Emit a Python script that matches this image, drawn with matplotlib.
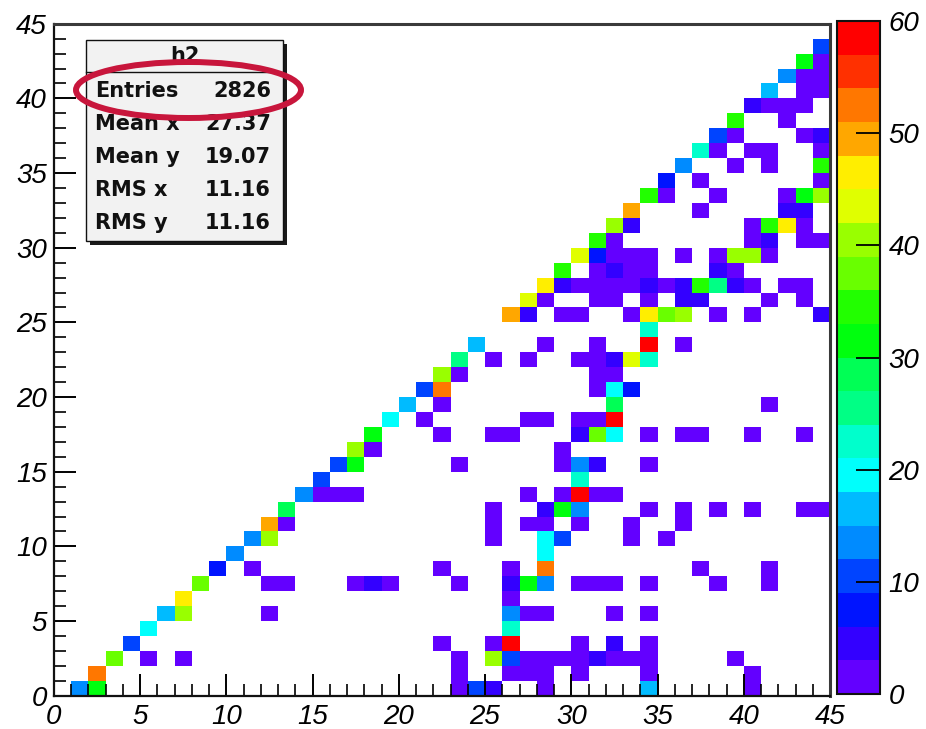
import colorsys
import numpy as np
import matplotlib
matplotlib.use("Agg")
import matplotlib.pyplot as plt
from matplotlib.colors import ListedColormap, BoundaryNorm
from matplotlib.patches import Rectangle, Ellipse
from matplotlib.lines import Line2D

# ---------------- data ----------------
n_bins = 45
axis_min, axis_max = 0, 45
axis_ticks = [0, 5, 10, 15, 20, 25, 30, 35, 40, 45]
levels = list(range(0, 61, 3))
cbar_ticks = [0, 10, 20, 30, 40, 50, 60]

stats_title = "h2"
stats_labels = ["Entries", "Mean x", "Mean y", "RMS x", "RMS y"]
stats_values = ["2826", "27.37", "19.07", "11.16", "11.16"]

# non-empty bins (lower-left corner x, y) and their contents, one line per y row
bin_x = [
    1, 2, 23, 24, 25, 28, 34, 40,
    2, 23, 26, 27, 28, 30, 34, 40,
    3, 5, 7, 23, 25, 26, 27, 28, 29, 30, 31, 32, 33, 34, 39,
    4, 22, 25, 26, 30, 32, 34,
    5, 26,
    6, 7, 12, 26, 27, 28, 32, 34,
    7, 26,
    8, 12, 13, 17, 18, 19, 23, 26, 27, 28, 30, 31, 32, 34, 38, 41,
    9, 11, 22, 26, 28, 37, 41,
    10, 28,
    11, 12, 25, 28, 29, 33, 35,
    12, 13, 25, 27, 28, 30, 33, 36,
    13, 25, 28, 29, 30, 34, 36, 38, 40, 43, 44,
    14, 15, 16, 17, 27, 29, 30, 31, 32,
    15, 30,
    16, 17, 23, 29, 30, 31, 34,
    17, 18, 29,
    18, 22, 25, 26, 30, 31, 32, 34, 36, 37, 40, 43,
    19, 21, 27, 28, 30, 31, 32,
    20, 22, 32, 41,
    21, 22, 31, 32, 33,
    22, 23, 31, 32,
    23, 25, 27, 30, 31, 32, 33, 34,
    24, 28, 31, 34, 36,
    34,
    26, 27, 29, 30, 33, 34, 35, 36, 38, 40, 44,
    27, 28, 31, 32, 34, 36, 37, 41, 43,
    28, 29, 30, 31, 32, 33, 34, 35, 36, 37, 38, 39, 40, 42, 43,
    29, 31, 32, 33, 34, 38, 39,
    30, 31, 32, 33, 34, 36, 38, 39, 40, 41,
    31, 32, 40, 41, 43, 44,
    32, 33, 40, 41, 42, 43,
    33, 37, 42, 43,
    34, 35, 38, 42, 43, 44,
    35, 37, 44,
    36, 39, 41, 44,
    37, 38, 40, 41, 44,
    38, 39, 43, 44,
    39, 42,
    40, 41, 42, 43,
    41, 43, 44,
    42, 43, 44,
    43, 44,
    44,
]
bin_y = [
    0, 0, 0, 0, 0, 0, 0, 0,
    1, 1, 1, 1, 1, 1, 1, 1,
    2, 2, 2, 2, 2, 2, 2, 2, 2, 2, 2, 2, 2, 2, 2,
    3, 3, 3, 3, 3, 3, 3,
    4, 4,
    5, 5, 5, 5, 5, 5, 5, 5,
    6, 6,
    7, 7, 7, 7, 7, 7, 7, 7, 7, 7, 7, 7, 7, 7, 7, 7,
    8, 8, 8, 8, 8, 8, 8,
    9, 9,
    10, 10, 10, 10, 10, 10, 10,
    11, 11, 11, 11, 11, 11, 11, 11,
    12, 12, 12, 12, 12, 12, 12, 12, 12, 12, 12,
    13, 13, 13, 13, 13, 13, 13, 13, 13,
    14, 14,
    15, 15, 15, 15, 15, 15, 15,
    16, 16, 16,
    17, 17, 17, 17, 17, 17, 17, 17, 17, 17, 17, 17,
    18, 18, 18, 18, 18, 18, 18,
    19, 19, 19, 19,
    20, 20, 20, 20, 20,
    21, 21, 21, 21,
    22, 22, 22, 22, 22, 22, 22, 22,
    23, 23, 23, 23, 23,
    24,
    25, 25, 25, 25, 25, 25, 25, 25, 25, 25, 25,
    26, 26, 26, 26, 26, 26, 26, 26, 26,
    27, 27, 27, 27, 27, 27, 27, 27, 27, 27, 27, 27, 27, 27, 27,
    28, 28, 28, 28, 28, 28, 28,
    29, 29, 29, 29, 29, 29, 29, 29, 29, 29,
    30, 30, 30, 30, 30, 30,
    31, 31, 31, 31, 31, 31,
    32, 32, 32, 32,
    33, 33, 33, 33, 33, 33,
    34, 34, 34,
    35, 35, 35, 35,
    36, 36, 36, 36, 36,
    37, 37, 37, 37,
    38, 38,
    39, 39, 39, 39,
    40, 40, 40,
    41, 41, 41,
    42, 42,
    43,
]
bin_count = [
    13, 31, 1, 10, 4, 1, 16, 1,
    52, 1, 1, 1, 1, 1, 1, 1,
    37, 1, 1, 1, 40, 10, 1, 1, 1, 1, 4, 1, 1, 1, 1,
    10, 1, 1, 58, 1, 4, 1,
    19, 22,
    16, 40, 1, 13, 1, 1, 1, 1,
    46, 1,
    37, 1, 1, 1, 4, 1, 1, 4, 31, 13, 1, 1, 1, 1, 1, 1,
    7, 1, 1, 1, 52, 1, 1,
    13, 19,
    13, 40, 1, 19, 10, 1, 1,
    49, 1, 1, 1, 1, 1, 1, 1,
    28, 1, 4, 31, 13, 1, 1, 1, 1, 1, 1,
    13, 1, 1, 1, 1, 1, 58, 1, 1,
    10, 22,
    10, 31, 1, 1, 13, 4, 1,
    40, 1, 1,
    31, 1, 1, 1, 4, 37, 19, 1, 1, 1, 1, 1,
    19, 1, 1, 1, 1, 1, 58,
    16, 1, 28, 1,
    10, 52, 1, 19, 7,
    40, 1, 1, 1,
    25, 1, 1, 1, 1, 4, 43, 22,
    16, 1, 1, 58, 1,
    22,
    49, 4, 1, 1, 1, 46, 37, 40, 1, 1, 4,
    43, 1, 1, 1, 1, 4, 4, 1, 1,
    46, 4, 1, 1, 1, 1, 4, 1, 4, 34, 25, 4, 1, 1, 1,
    34, 1, 4, 1, 1, 4, 1,
    43, 7, 1, 1, 1, 1, 1, 40, 40, 1,
    34, 1, 1, 4, 1, 1,
    40, 4, 1, 34, 46, 1,
    49, 1, 4, 4,
    34, 1, 1, 1, 31, 40,
    7, 1, 1,
    13, 1, 1, 34,
    22, 1, 1, 1, 1,
    10, 1, 1, 4,
    34, 1,
    4, 1, 1, 1,
    16, 1, 1,
    13, 1, 1,
    31, 1,
    10,
]

# ---------------- ROOT "pretty palette" sampled at 20 contours ----------------
def root_palette(n_levels, n_colors=50):
    cols = []
    for j in range(n_levels):
        idx = int((j + 0.99) * n_colors / n_levels)
        if idx >= n_colors - 1:
            cols.append((1.0, 0.0, 0.0))
        else:
            hue = 280.0 - (idx + 1) * 280.0 / n_colors
            cols.append(colorsys.hls_to_rgb(hue / 360.0, 0.5, 1.0))
    return cols

cmap = ListedColormap(root_palette(len(levels) - 1))
norm = BoundaryNorm(levels, cmap.N)

H = np.zeros((n_bins, n_bins))
for bx, by, bc in zip(bin_x, bin_y, bin_count):
    H[by, bx] += bc
Hm = np.ma.masked_where(H <= 0, H)
edges = np.linspace(axis_min, axis_max, n_bins + 1)

# ---------------- figure ----------------
W, Hpx = 926, 729
fig = plt.figure(figsize=(W / 100, Hpx / 100), dpi=100)
fig.patch.set_facecolor("white")

def fx(x):
    return x / W

def fy(y):
    return 1 - y / Hpx

ax_left, ax_right, ax_top, ax_bot = 53.75, 830.0, 23.7, 695.7
ax = fig.add_axes([fx(ax_left), fy(ax_bot), (ax_right - ax_left) / W, (ax_bot - ax_top) / Hpx])
mesh = ax.pcolormesh(edges, edges, Hm, cmap=cmap, norm=norm, shading="flat")
ax.set_xlim(axis_min, axis_max)
ax.set_ylim(axis_min, axis_max)

tick_font = dict(family=["Liberation Sans", "DejaVu Sans"], style="italic", size=20)
ax.set_xticks(axis_ticks)
ax.set_yticks(axis_ticks)
ax.set_xticks(range(axis_min, axis_max + 1), minor=True)
ax.set_yticks(range(axis_min, axis_max + 1), minor=True)
ax.set_xticklabels([str(t) for t in axis_ticks], fontdict=tick_font)
ax.set_yticklabels([str(t) for t in axis_ticks], fontdict=tick_font)
ax.tick_params(which="major", direction="in", length=16, width=1.4, top=False, right=False, pad=6)
ax.tick_params(which="minor", direction="in", length=8.5, width=1.2, top=False, right=False)
ax.tick_params(axis="y", which="major", pad=5)
for side in ["left", "bottom"]:
    ax.spines[side].set_linewidth(1.6)
    ax.spines[side].set_color("#111111")
for side in ["top", "right"]:
    ax.spines[side].set_linewidth(2.2)
    ax.spines[side].set_color("#3a3a3a")

# colour bar
cb_left, cb_right, cb_top, cb_bot = 837.0, 880.0, 21.0, 694.0
cax = fig.add_axes([fx(cb_left), fy(cb_bot), (cb_right - cb_left) / W, (cb_bot - cb_top) / Hpx])
cb = fig.colorbar(mesh, cax=cax, ticks=cbar_ticks)
cb.outline.set_linewidth(1.5)
cb.outline.set_edgecolor("#111111")
cax.yaxis.set_ticks_position("right")
cax.tick_params(direction="in", length=17, width=1.3, pad=6)
cax.minorticks_off()
cax.set_yticklabels([str(t) for t in cbar_ticks], fontdict=tick_font)

# statistics box
bx0, by0, bx1, by1 = 86, 40, 283, 241
fig.add_artist(Rectangle((fx(bx0 + 4), fy(by1 + 4)), (bx1 - bx0) / W, (by1 - by0) / Hpx,
                         transform=fig.transFigure, facecolor="#1a1a1a", edgecolor="none", zorder=5))
fig.add_artist(Rectangle((fx(bx0), fy(by1)), (bx1 - bx0) / W, (by1 - by0) / Hpx,
                         transform=fig.transFigure, facecolor="#f2f2f2", edgecolor="#111111",
                         linewidth=1.0, zorder=6))
fig.add_artist(Line2D([fx(bx0), fx(bx1)], [fy(72), fy(72)], transform=fig.transFigure,
                      color="#111111", linewidth=1.0, zorder=7))
stat_font = dict(family=["DejaVu Sans"], weight="bold", size=15, color="#111111", zorder=8)
fig.text(fx((bx0 + bx1) / 2), fy(56), stats_title, ha="center", va="center", **stat_font)
for k, (lab, val) in enumerate(zip(stats_labels, stats_values)):
    yy = 91 + k * 33
    fig.text(fx(95), fy(yy), lab, ha="left", va="center", **stat_font)
    fig.text(fx(271), fy(yy), val, ha="right", va="center", **stat_font)

# red highlight ellipse
fig.add_artist(Ellipse((fx(188.5), fy(90)), 225 / W, 56 / Hpx, transform=fig.transFigure,
                       facecolor="none", edgecolor="#c8163c", linewidth=4.3, zorder=9))

fig.savefig("out.png", dpi=100)
